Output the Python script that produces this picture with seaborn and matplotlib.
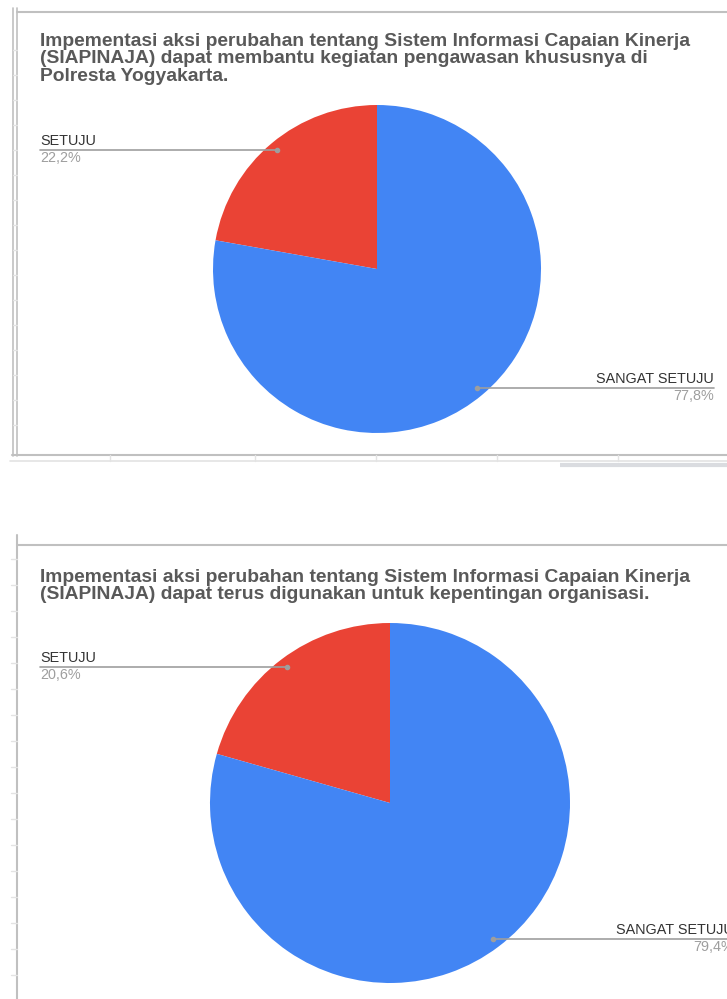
import numpy as np
import matplotlib
matplotlib.use("Agg")
import matplotlib.pyplot as plt
import seaborn as sns

sns.set_theme(style="white")
plt.rcParams['font.family'] = ['Liberation Sans', 'DejaVu Sans']

# ---- data ----
categories = ["SETUJU", "SANGAT SETUJU"]
colors = ["#ea4335", "#4285f4"]
values_1 = [22.2, 77.8]
values_2 = [20.6, 79.4]
labels_1 = ["22,2%", "77,8%"]
labels_2 = ["20,6%", "79,4%"]
title_1 = ("Impementasi aksi perubahan tentang Sistem Informasi Capaian Kinerja\n"
           "(SIAPINAJA) dapat membantu kegiatan pengawasan khususnya di\n"
           "Polresta Yogyakarta.")
title_2 = ("Impementasi aksi perubahan tentang Sistem Informasi Capaian Kinerja\n"
           "(SIAPINAJA) dapat terus digunakan untuk kepentingan organisasi.")

W, H = 727, 999
fig = plt.figure(figsize=(W / 100, H / 100), dpi=100)
fig.patch.set_facecolor("white")


def px_axes(cx, cy, r):
    return fig.add_axes([(cx - r) / W, (H - cy - r) / H, 2 * r / W, 2 * r / H])


pies = []
for (cx, cy, r), vals in [((377, 269, 164), values_1), ((390, 803, 180), values_2)]:
    ax = px_axes(cx, cy, r)
    ax.pie(vals, colors=colors, startangle=90, counterclock=True,
           wedgeprops=dict(linewidth=0))
    ax.set_xlim(-1, 1)
    ax.set_ylim(-1, 1)
    ax.set_axis_off()
    pies.append(ax)

# overlay in pixel coordinates
ov = fig.add_axes([0, 0, 1, 1], zorder=10)
ov.set_xlim(0, W)
ov.set_ylim(H, 0)
ov.set_axis_off()
ov.patch.set_alpha(0)

grid_c = "#c0c0c0"
light_c = "#e3e3e3"
# --- spreadsheet frame, top chart ---
ov.plot([13, 13], [8, 456], color=grid_c, lw=1.2)
ov.plot([17, 17], [8, 456], color=grid_c, lw=1.2)
ov.plot([17, W], [12, 12], color=grid_c, lw=1.5)
ov.plot([12, W], [455, 455], color=grid_c, lw=1.5)
ov.plot([10, W], [461, 461], color=light_c, lw=1.2)
for x in [110, 255, 376, 497, 618]:
    ov.plot([x, x], [455, 461], color=light_c, lw=1)
ov.plot([560, W], [464.5, 464.5], color="#dadce0", lw=3, solid_capstyle="butt")
for y in range(50, 450, 25):
    ov.plot([13, 17], [y, y], color=light_c, lw=1)

# --- spreadsheet frame, bottom chart ---
ov.plot([17, 17], [535, H], color=grid_c, lw=1.5)
ov.plot([17, W], [545, 545], color=grid_c, lw=1.5)
for y in range(559, H, 26):
    ov.plot([11, 17], [y, y], color=light_c, lw=1)

# --- titles ---
title_c = "#595959"
ov.text(40, 33, title_1, fontsize=13.9, fontweight="bold", color=title_c,
        va="top", ha="left", linespacing=1.03)
ov.text(40, 569, title_2, fontsize=13.9, fontweight="bold", color=title_c,
        va="top", ha="left", linespacing=1.03)

# --- leader lines and labels ---
label_c = "#333333"
pct_c = "#9e9e9e"
line_c = "#9e9e9e"


def dot_px(ax, vals, i, rr=0.945):
    tot = sum(vals)
    start = 90 + 360 * sum(vals[:i]) / tot
    mid = np.deg2rad(start + 180 * vals[i] / tot)
    dx, dy = ax.transData.transform((rr * np.cos(mid), rr * np.sin(mid)))
    return dx, H - dy


specs = [
    (pies[0], values_1, labels_1, 40, 714),
    (pies[1], values_2, labels_2, 40, 734),
]
for ax, vals, pcts, lx, rx in specs:
    # left label (SETUJU)
    x0, y0 = dot_px(ax, vals, 0)
    ov.plot([lx, x0], [y0, y0], color=line_c, lw=1.2)
    ov.plot([x0], [y0], "o", ms=3, color=line_c)
    ov.text(lx, y0 - 2, categories[0], fontsize=10.4, color=label_c, ha="left", va="bottom")
    ov.text(lx, y0 + 1, pcts[0], fontsize=10.4, color=pct_c, ha="left", va="top")
    # right label (SANGAT SETUJU)
    x1, y1 = dot_px(ax, vals, 1)
    ov.plot([x1, min(rx, W)], [y1, y1], color=line_c, lw=1.2)
    ov.plot([x1], [y1], "o", ms=3, color=line_c)
    ov.text(rx, y1 - 2, categories[1], fontsize=10.4, color=label_c, ha="right", va="bottom", clip_on=True)
    ov.text(rx, y1 + 1, pcts[1], fontsize=10.4, color=pct_c, ha="right", va="top", clip_on=True)

fig.savefig("out.png", dpi=100)
